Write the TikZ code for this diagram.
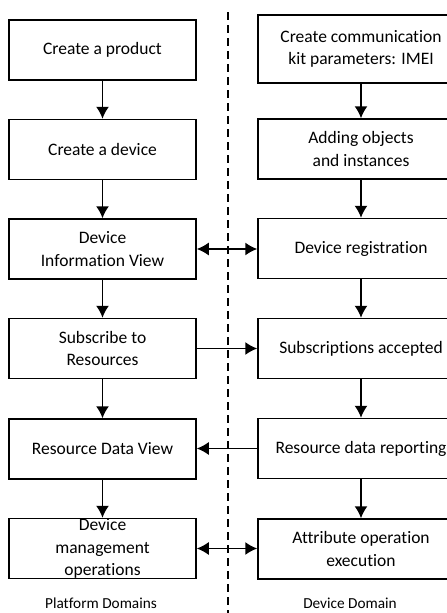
\documentclass[tikz,border=0pt]{standalone}
\usepackage{fontspec}
\setmainfont{Carlito}[Ligatures=NoCommon]
\usetikzlibrary{arrows.meta}

\begin{document}
\begin{tikzpicture}[x=1pt,y=-1pt]

\tikzset{box/.style = {shape=rectangle,draw,line width=1.5pt,minimum height=60pt,inner ysep=0pt,align=center,font=\fontsize{17.5}{22.5}\selectfont}}
\tikzset{pbox/.style = {box,minimum width=187pt}}
\tikzset{dbox/.style = {box,minimum width=206pt}}
\tikzset{edge/.style = {-{Latex[length=12pt,width=13pt]},line width=1.5pt}}
\tikzset{twoway/.style = {{Latex[length=12pt,width=13pt]}-{Latex[length=12pt,width=13pt]},line width=1.5pt}}
\tikzset{divider/.style = {dash pattern=on 8pt off 5pt,line width=1.8pt}}
\tikzset{domainlabel/.style = {anchor=base,font=\fontsize{15.3}{18}\selectfont}}

\useasboundingbox (0,0) rectangle (447,613);

%platform domain
\node[pbox] (p1) at (102.5,50) {Create a product};
\node[pbox] (p2) at (102.5,149.5) {Create a device};
\node[pbox] (p3) at (102.5,249) {Device\\Information View};
\node[pbox] (p4) at (102.5,348.5) {Subscribe to\\Resources};
\node[pbox] (p5) at (102.5,449) {Resource Data View};
\node[pbox,inner ysep=-1.5pt] (p6) at (102.5,548.5) {Device\\management\\operations};

%device domain
\node[dbox,minimum height=68pt] (d1) at (361,49) {Create communication\\kit parameters: IMEI};
\node[dbox] (d2) at (361,149) {Adding objects\\and instances};
\node[dbox] (d3) at (361,248.5) {Device registration};
\node[dbox] (d4) at (361,348.5) {Subscriptions accepted};
\node[dbox] (d5) at (361,448.5) {Resource data reporting};
\node[dbox] (d6) at (361,549) {Attribute operation\\execution};

%divider
\coordinate (top) at (228,12);
\coordinate (bottom) at (228,613);
\draw[divider] (top) -- (bottom);

\node[domainlabel] (pd) at (101,608) {Platform Domains};
\node[domainlabel] (dd) at (350,608) {Device Domain};

%edges
\draw[edge] (p1) -- (p2);
\draw[edge] (p2) -- (p3);
\draw[edge] (p3) -- (p4);
\draw[edge] (p4) -- (p5);
\draw[edge] (p5) -- (p6);
\draw[edge] (d1) -- (d2);
\draw[edge] (d2) -- (d3);
\draw[edge] (d3) -- (d4);
\draw[edge] (d4) -- (d5);
\draw[edge] (d5) -- (d6);
\draw[twoway] (p3) -- (p3 -| d3.west);
\draw[edge] (p4) -- (p4 -| d4.west);
\draw[edge] (d5) -- (d5 -| p5.east);
\draw[twoway] (p6) -- (p6 -| d6.west);

\end{tikzpicture}
\end{document}
